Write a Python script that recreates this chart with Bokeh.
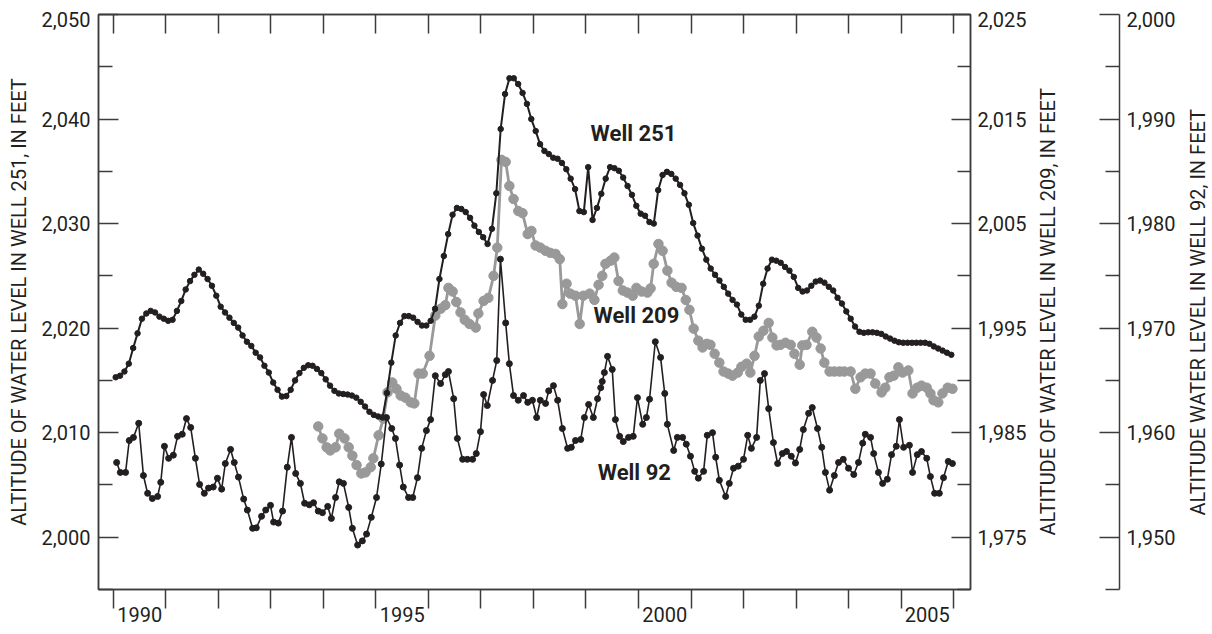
from bokeh.plotting import figure
from bokeh.models import LinearAxis, Range1d, FixedTicker, NumeralTickFormatter, Label, Title
from bokeh.layouts import row
from bokeh.embed import file_html
from bokeh.resources import INLINE

FONT = "Roboto"
INK = "#231f20"
GRAY = "#999999"
AXIS = "#3c3c3c"

# ---------------- data ----------------
# Well 251: monthly readings, Jan 1990 - Dec 2005 (feet)
w251_first_year = 1990
w251_level = [
    2015.3, 2015.45, 2015.85, 2016.6, 2018.1, 2019.5, 2020.9, 2021.4, 2021.65, 2021.5, 2021.1, 2020.9,
    2020.7, 2020.8, 2021.65, 2022.6, 2023.7, 2024.5, 2025.1, 2025.6, 2025.2, 2024.7, 2024.05, 2023.1,
    2022.05, 2021.5, 2021.0, 2020.5, 2020.05, 2019.3, 2018.7, 2018.3, 2017.65, 2017.2, 2016.4, 2015.75,
    2014.8, 2014.1, 2013.45, 2013.5, 2014.1, 2015.0, 2015.7, 2016.2, 2016.45, 2016.4, 2016.1, 2015.7,
    2015.1, 2014.5, 2014.0, 2013.75, 2013.7, 2013.65, 2013.55, 2013.35, 2012.95, 2012.5, 2012.0, 2011.7,
    2011.55, 2011.45, 2013.8, 2016.7, 2019.3, 2020.5, 2021.15, 2021.15, 2021.0, 2020.6, 2020.25, 2020.25,
    2020.7, 2021.85, 2024.7, 2026.9, 2029.0, 2030.85, 2031.5, 2031.4, 2031.1, 2030.55, 2029.8, 2029.2,
    2028.7, 2028.05, 2029.5, 2032.9, 2039.05, 2042.4, 2043.9, 2043.9, 2043.35, 2042.5, 2041.45, 2040.0,
    2038.85, 2037.6, 2036.95, 2036.65, 2036.3, 2036.2, 2035.8, 2035.2, 2034.3, 2033.3, 2031.2, 2031.1,
    2035.4, 2030.35, 2031.5, 2032.85, 2034.3, 2035.4, 2035.3, 2035.05, 2034.4, 2033.6, 2032.75, 2031.7,
    2030.95, 2030.75, 2030.15, 2030.0, 2033.2, 2034.65, 2034.95, 2034.75, 2034.3, 2033.7, 2032.9, 2031.8,
    2030.05, 2028.85, 2027.6, 2026.55, 2025.7, 2025.1, 2024.55, 2023.95, 2023.3, 2022.7, 2022.25, 2021.3,
    2020.8, 2020.8, 2021.1, 2022.15, 2024.25, 2025.7, 2026.55, 2026.45, 2026.25, 2025.85, 2025.5, 2024.9,
    2023.85, 2023.5, 2023.6, 2024.05, 2024.45, 2024.55, 2024.35, 2023.95, 2023.6, 2022.9, 2022.35, 2021.6,
    2020.9, 2020.15, 2019.65, 2019.55, 2019.6, 2019.6, 2019.55, 2019.45, 2019.2, 2019.0, 2018.8, 2018.65,
    2018.6, 2018.6, 2018.6, 2018.6, 2018.6, 2018.6, 2018.5, 2018.25, 2018.05, 2017.85, 2017.65, 2017.45,
]
w251_year = [w251_first_year + (i + 0.5) / 12 for i in range(len(w251_level))]

# Well 209 (feet)
w209_year = [
    1993.90, 1993.98, 1994.06, 1994.13, 1994.23, 1994.30, 1994.40, 1994.48, 1994.55, 1994.63,
    1994.72, 1994.80, 1994.90, 1994.95, 1995.05, 1995.14, 1995.22, 1995.31, 1995.39, 1995.47,
    1995.56, 1995.66, 1995.73, 1995.81, 1995.89, 1996.02, 1996.13, 1996.23, 1996.32, 1996.38,
    1996.46, 1996.53, 1996.61, 1996.69, 1996.78, 1996.90, 1996.95, 1997.05, 1997.14, 1997.24,
    1997.31, 1997.39, 1997.47, 1997.54, 1997.62, 1997.71, 1997.79, 1997.89, 1997.96, 1998.04,
    1998.13, 1998.23, 1998.32, 1998.42, 1998.50, 1998.55, 1998.63, 1998.70, 1998.80, 1998.88,
    1998.95, 1999.07, 1999.16, 1999.24, 1999.31, 1999.37, 1999.47, 1999.54, 1999.62, 1999.70,
    1999.79, 1999.89, 1999.96, 2000.06, 2000.17, 2000.23, 2000.29, 2000.38, 2000.46, 2000.55,
    2000.63, 2000.72, 2000.82, 2000.90, 2000.97, 2001.05, 2001.14, 2001.22, 2001.30, 2001.37,
    2001.45, 2001.54, 2001.62, 2001.71, 2001.79, 2001.89, 2001.96, 2002.06, 2002.13, 2002.21,
    2002.29, 2002.38, 2002.48, 2002.55, 2002.63, 2002.70, 2002.80, 2002.90, 2002.97, 2003.07,
    2003.12, 2003.20, 2003.31, 2003.39, 2003.47, 2003.54, 2003.64, 2003.73, 2003.83, 2003.92,
    2004.04, 2004.13, 2004.23, 2004.32, 2004.42, 2004.51, 2004.63, 2004.70, 2004.78, 2004.86,
    2004.95, 2005.03, 2005.14, 2005.22, 2005.31, 2005.39, 2005.49, 2005.56, 2005.62, 2005.71,
    2005.79, 2005.89, 2005.98,
]
w209_level = [
    1985.6, 1984.45, 1983.6, 1983.3, 1983.6, 1984.9, 1984.45, 1983.6, 1982.8, 1981.9,
    1981.1, 1981.2, 1981.7, 1982.55, 1984.75, 1986.35, 1988.85, 1989.8, 1989.2, 1988.55,
    1988.35, 1987.9, 1987.8, 1990.65, 1990.65, 1992.35, 1996.2, 1996.85, 1997.2, 1998.85,
    1998.5, 1997.5, 1996.5, 1995.8, 1995.4, 1995.05, 1996.4, 1997.6, 1997.9, 2000.0,
    2002.7, 2011.1, 2010.9, 2008.6, 2007.35, 2006.2, 2006.0, 2004.0, 2004.3, 2002.9,
    2002.7, 2002.4, 2002.2, 2002.1, 2001.6, 1997.3, 1999.25, 1998.3, 1998.1, 1995.4,
    1998.1, 1998.3, 1997.7, 1999.15, 2000.0, 2001.15, 2001.45, 2001.75, 1999.5, 1998.6,
    1998.4, 1998.1, 1998.85, 1998.5, 1998.4, 1998.8, 2001.15, 2003.05, 2002.4, 2000.5,
    1999.35, 1998.95, 1998.85, 1997.7, 1996.75, 1994.95, 1993.8, 1993.15, 1993.5, 1993.4,
    1992.55, 1991.7, 1990.85, 1990.65, 1990.45, 1990.75, 1991.3, 1991.6, 1990.75, 1992.35,
    1994.2, 1994.75, 1995.5, 1994.1, 1993.35, 1993.4, 1993.6, 1993.4, 1992.55, 1991.5,
    1993.35, 1993.4, 1994.65, 1994.1, 1993.05, 1991.7, 1990.85, 1990.85, 1990.85, 1990.85,
    1990.85, 1989.2, 1990.3, 1990.65, 1990.65, 1989.7, 1988.85, 1989.3, 1990.3, 1990.45,
    1991.25, 1990.75, 1990.95, 1988.75, 1989.3, 1989.5, 1989.3, 1988.75, 1988.1, 1987.9,
    1988.75, 1989.3, 1989.2,
]

# Well 92 (feet)
w92_year = [
    1990.06, 1990.13, 1990.23, 1990.30, 1990.38, 1990.48, 1990.57, 1990.65, 1990.74, 1990.84,
    1990.90, 1990.97, 1991.05, 1991.14, 1991.22, 1991.31, 1991.39, 1991.47, 1991.56, 1991.64,
    1991.73, 1991.81, 1991.90, 1991.98, 1992.06, 1992.13, 1992.23, 1992.30, 1992.38, 1992.48,
    1992.55, 1992.65, 1992.72, 1992.82, 1992.90, 1992.99, 1993.05, 1993.14, 1993.22, 1993.31,
    1993.39, 1993.47, 1993.56, 1993.64, 1993.73, 1993.81, 1993.90, 1993.98, 1994.08, 1994.15,
    1994.23, 1994.30, 1994.38, 1994.48, 1994.55, 1994.65, 1994.74, 1994.82, 1994.91, 1995.01,
    1995.10, 1995.20, 1995.30, 1995.37, 1995.45, 1995.52, 1995.62, 1995.70, 1995.79, 1995.87,
    1995.96, 1996.04, 1996.13, 1996.23, 1996.32, 1996.38, 1996.48, 1996.55, 1996.65, 1996.74,
    1996.84, 1996.91, 1996.99, 1997.05, 1997.12, 1997.22, 1997.30, 1997.37, 1997.47, 1997.54,
    1997.62, 1997.71, 1997.81, 1997.89, 1997.98, 1998.06, 1998.13, 1998.23, 1998.29, 1998.38,
    1998.46, 1998.55, 1998.65, 1998.72, 1998.80, 1998.90, 1998.97, 1999.05, 1999.14, 1999.22,
    1999.28, 1999.31, 1999.35, 1999.41, 1999.50, 1999.56, 1999.64, 1999.71, 1999.81, 1999.90,
    1999.98, 2000.08, 2000.15, 2000.21, 2000.32, 2000.42, 2000.50, 2000.55, 2000.67, 2000.74,
    2000.84, 2000.91, 2000.99, 2001.07, 2001.14, 2001.24, 2001.31, 2001.41, 2001.47, 2001.54,
    2001.66, 2001.73, 2001.81, 2001.90, 2002.00, 2002.08, 2002.15, 2002.25, 2002.32, 2002.40,
    2002.48, 2002.57, 2002.65, 2002.74, 2002.82, 2002.91, 2002.99, 2003.07, 2003.14, 2003.24,
    2003.31, 2003.41, 2003.49, 2003.56, 2003.64, 2003.73, 2003.81, 2003.90, 2004.00, 2004.10,
    2004.19, 2004.27, 2004.32, 2004.42, 2004.48, 2004.57, 2004.65, 2004.74, 2004.82, 2004.91,
    2004.97, 2005.05, 2005.16, 2005.22, 2005.31, 2005.39, 2005.49, 2005.56, 2005.64, 2005.73,
    2005.81, 2005.90, 2005.98,
]
w92_level = [
    1957.15, 1956.2, 1956.2, 1959.25, 1959.55, 1960.9, 1955.9, 1954.2, 1953.7, 1953.9,
    1955.25, 1958.7, 1957.55, 1957.85, 1959.65, 1959.85, 1961.35, 1960.5, 1957.55, 1955.05,
    1954.2, 1954.7, 1954.8, 1955.65, 1954.6, 1957.05, 1958.4, 1957.15, 1955.75, 1953.65,
    1952.6, 1950.85, 1950.9, 1952.0, 1952.6, 1953.05, 1951.45, 1951.35, 1952.5, 1956.7,
    1959.55, 1956.1, 1955.15, 1953.25, 1953.1, 1953.3, 1952.5, 1952.35, 1952.95, 1951.8,
    1953.8, 1955.3, 1955.15, 1952.85, 1950.85, 1949.25, 1949.65, 1950.3, 1951.9, 1953.8,
    1957.0, 1961.45, 1960.4, 1959.45, 1956.9, 1954.8, 1953.8, 1953.8, 1955.7, 1958.5,
    1960.2, 1961.25, 1965.45, 1964.7, 1965.55, 1965.85, 1963.25, 1959.45, 1957.45, 1957.45,
    1957.45, 1958.0, 1960.1, 1963.65, 1962.6, 1965.0, 1966.9, 1976.6, 1970.5, 1966.6,
    1963.55, 1963.1, 1963.55, 1962.9, 1963.1, 1961.45, 1963.1, 1962.8, 1964.0, 1964.5,
    1963.1, 1960.4, 1958.5, 1958.6, 1959.25, 1959.35, 1961.45, 1962.7, 1961.45, 1963.25,
    1964.3, 1964.9, 1965.75, 1967.3, 1966.05, 1961.25, 1959.65, 1959.15, 1959.55, 1959.65,
    1963.35, 1960.8, 1961.45, 1963.2, 1968.7, 1967.2, 1963.75, 1960.8, 1958.3, 1959.55,
    1959.55, 1958.9, 1957.75, 1956.3, 1955.65, 1956.3, 1959.75, 1960.0, 1957.65, 1955.45,
    1953.9, 1955.15, 1956.6, 1956.8, 1957.45, 1959.75, 1958.5, 1959.55, 1965.0, 1965.65,
    1962.3, 1959.05, 1957.05, 1958.0, 1958.2, 1957.75, 1957.1, 1958.4, 1960.3, 1961.85,
    1962.4, 1960.4, 1958.6, 1956.2, 1954.5, 1955.9, 1957.15, 1957.45, 1956.6, 1956.0,
    1957.15, 1959.0, 1959.85, 1959.55, 1958.0, 1956.2, 1955.15, 1955.55, 1957.9, 1958.7,
    1961.25, 1958.6, 1958.8, 1956.2, 1957.9, 1958.2, 1957.55, 1955.8, 1954.2, 1954.2,
    1955.7, 1957.25, 1957.05,
]

# axes / ticks
year_ticks = list(range(1990, 2007))
year_label_years = [1990, 1995, 2000, 2005]
w251_ticks = [2000, 2010, 2020, 2030, 2040, 2050]
w251_minor = [1995, 2005, 2015, 2025, 2035, 2045]
w209_ticks = [1975, 1985, 1995, 2005, 2015, 2025]
w209_minor = [1970, 1980, 1990, 2000, 2010, 2020]
w92_ticks = [1950, 1960, 1970, 1980, 1990, 2000]
w92_minor = [1945, 1955, 1965, 1975, 1985, 1995]

title_251 = "ALTITUDE OF WATER LEVEL IN WELL 251, IN FEET"
title_209 = "ALTITUDE OF WATER LEVEL IN WELL 209, IN FEET"
title_92 = "ALTITUDE WATER LEVEL IN WELL 92, IN FEET"

# ---------------- layout constants (pixels) ----------------
H = 630
BT = 14
BB = H - BT - 575                   # frame 575 px tall
P_W, BL = 1033, 98                  # main figure; frame 872 px wide
BR = P_W - BL - 872
Q_W, Q_BL = 150, 26                 # title 209 + detached axis (frame 60 px)
Q_BR = Q_W - Q_BL - 60
R_W, R_BL = 27, 26                  # title 92
X0, X1 = 1989.7143, 2006.3238
PPF = 575 / 55.0                    # pixels per foot
TOP_LABEL_DROP = 5 / PPF            # top tick labels sit a little below their tick


def style_axis(ax, label_size="20px"):
    ax.axis_line_color = AXIS
    ax.axis_line_width = 1.5
    ax.major_tick_line_color = AXIS
    ax.major_tick_line_width = 1.5
    ax.minor_tick_line_color = AXIS
    ax.minor_tick_line_width = 1.5
    ax.major_label_text_font = FONT
    ax.major_label_text_font_size = label_size
    ax.major_label_text_color = INK
    ax.axis_label_text_font = FONT
    ax.axis_label_text_font_size = "20px"
    ax.axis_label_text_font_style = "normal"
    ax.axis_label_text_color = INK


def tick_axis(fig, side, ticks, minor, major_len, minor_len, y_range_name="default"):
    ax = LinearAxis(y_range_name=y_range_name, ticker=FixedTicker(ticks=ticks, minor_ticks=minor),
                    major_label_overrides={t: "" for t in ticks})
    style_axis(ax, label_size="1px")
    ax.major_label_text_color = None
    ax.major_label_standoff = 0
    ax.major_tick_in, ax.major_tick_out = major_len, 0
    ax.minor_tick_in, ax.minor_tick_out = minor_len, 0
    fig.add_layout(ax, side)
    return ax


def label_axis(fig, side, ticks, standoff, y_range_name="default", title=None, title_standoff=0):
    pos = list(ticks[:-1]) + [ticks[-1] - TOP_LABEL_DROP]
    ax = LinearAxis(y_range_name=y_range_name, ticker=FixedTicker(ticks=pos, minor_ticks=[]),
                    formatter=NumeralTickFormatter(format="0,0"),
                    major_label_overrides={pos[-1]: f"{ticks[-1]:,}"})
    style_axis(ax)
    ax.axis_line_color = None
    ax.major_tick_in = ax.major_tick_out = 0
    ax.minor_tick_in = ax.minor_tick_out = 0
    ax.major_label_standoff = standoff
    if title:
        ax.axis_label = title
        ax.axis_label_standoff = title_standoff
    fig.add_layout(ax, side)
    return ax


def side_title(fig, text, offset):
    fig.add_layout(Title(text=text, align="left", offset=offset, text_font=FONT,
                         text_font_size="20px", text_font_style="normal", text_color=INK,
                         standoff=0), "left")


def blank_fig(width, bl, br, x_rng, y_rng):
    f = figure(width=width, height=H, x_range=x_rng, y_range=y_rng,
               x_axis_location=None, y_axis_location=None,
               min_border_left=bl, min_border_right=br, min_border_top=BT, min_border_bottom=BB,
               output_backend="svg", toolbar_location=None)
    f.grid.visible = False
    f.outline_line_color = None
    f.background_fill_color = "white"
    f.border_fill_color = "white"
    return f


# ---------------- main plot ----------------
p = blank_fig(P_W, BL, BR, Range1d(X0, X1), Range1d(1995, 2050))
p.extra_y_ranges = {"w209": Range1d(1970, 2025), "w92": Range1d(1945, 2000)}
p.outline_line_color = AXIS
p.outline_line_width = 1.5

# left (Well 251)
tick_axis(p, "left", w251_ticks, w251_minor, 20, 14)
label_axis(p, "left", w251_ticks, 8, title=title_251, title_standoff=8)
# right of frame (Well 209)
tick_axis(p, "right", w209_ticks, w209_minor, 19, 13, y_range_name="w209")
label_axis(p, "right", w209_ticks, 7, y_range_name="w209")

# top: year ticks only
xt = LinearAxis(ticker=FixedTicker(ticks=year_ticks, minor_ticks=[]),
                major_label_overrides={t: "" for t in year_ticks})
style_axis(xt, label_size="1px")
xt.major_label_text_color = None
xt.major_label_standoff = 0
xt.major_tick_in, xt.major_tick_out = 19, 0
p.add_layout(xt, "above")

# bottom: ticks at year boundaries, labels centred on the year
mid = [y + 0.5 for y in year_label_years]
xb = LinearAxis(ticker=FixedTicker(ticks=mid, minor_ticks=year_ticks),
                major_label_overrides={m: str(y) for m, y in zip(mid, year_label_years)})
style_axis(xb)
xb.major_tick_in, xb.major_tick_out = 0, 0
xb.minor_tick_in, xb.minor_tick_out = 0, 19
xb.major_label_standoff = -2
p.add_layout(xb, "below")

# series
p.line(w209_year, w209_level, y_range_name="w209", line_color=GRAY, line_width=2.8)
p.scatter(w209_year, w209_level, y_range_name="w209", size=9.5, color=GRAY)

p.line(w92_year, w92_level, y_range_name="w92", line_color=INK, line_width=1.6)
p.scatter(w92_year, w92_level, y_range_name="w92", size=6, color=INK)

p.line(w251_year, w251_level, line_color=INK, line_width=2)
p.scatter(w251_year, w251_level, size=5.5, color=INK)

for name, x, y in [("Well 251", 1999.905, 2038.66), ("Well 209", 1999.96, 2021.2), ("Well 92", 1999.92, 2006.2)]:
    p.add_layout(Label(x=x, y=y, text=name, text_font=FONT, text_font_size="22px",
                       text_font_style="bold", text_align="center", text_baseline="middle",
                       text_color=INK))

# ---------------- title of Well 209 + detached Well 92 axis ----------------
q = blank_fig(Q_W, Q_BL, Q_BR, Range1d(0, 1), Range1d(1945, 2000))
side_title(q, title_209, 54)
tick_axis(q, "right", w92_ticks, w92_minor, 20, 14)
label_axis(q, "right", w92_ticks, 7)

# ---------------- title of Well 92 ----------------
r = blank_fig(R_W, R_BL, 0, Range1d(0, 1), Range1d(0, 1))
side_title(r, title_92, 74)

layout = row(p, q, r)
open("out.html", "w").write(file_html(layout, INLINE))
